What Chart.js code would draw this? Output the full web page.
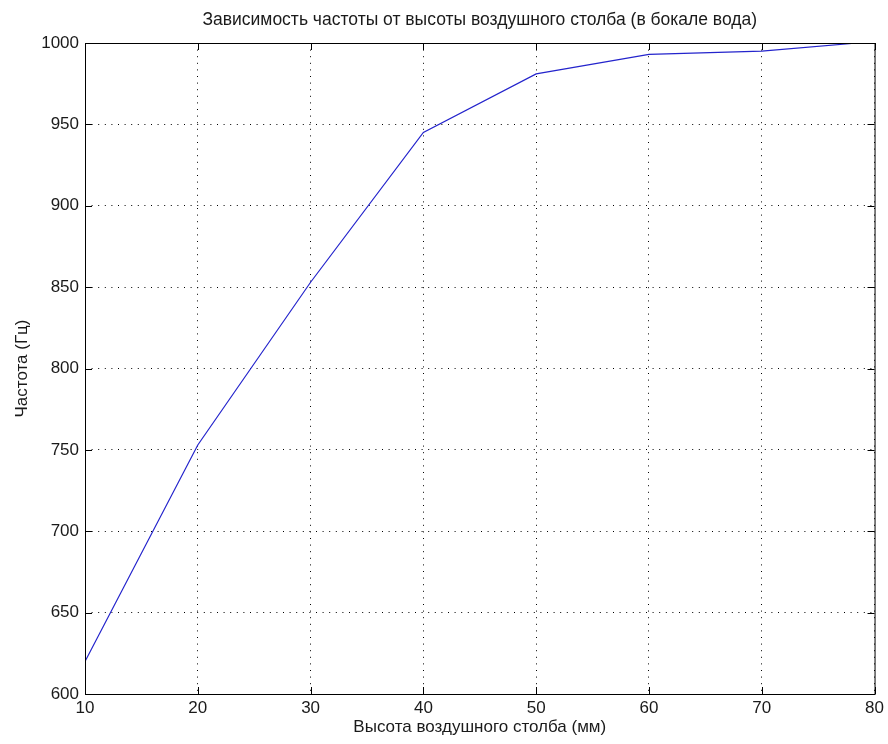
<!DOCTYPE html>
<html>
<head>
<meta charset="utf-8">
<script src="https://cdn.jsdelivr.net/npm/chart.js@4"></script>
<style>
  html, body { margin: 0; padding: 0; background: #fff; }
  #wrap { width: 888px; height: 744px; }
</style>
</head>
<body>
<div id="wrap"><canvas id="freq" width="888" height="744"></canvas></div>
<script>
// высота воздушного столба (мм) и частота (Гц)
const heights = [10, 20, 30, 40, 50, 60, 70, 78.5];
const freqs = [620, 753, 853, 945, 981, 993, 995, 1000];
const xTicks = [10, 20, 30, 40, 50, 60, 70, 80];
const yTicks = [600, 650, 700, 750, 800, 850, 900, 950, 1000];
const chartTitle = 'Зависимость частоты от высоты воздушного столба (в бокале вода)';

const font = "'Liberation Sans', Arial, sans-serif";
const textColor = '#1a1a1a';

// matlab-style box with ticks pointing inwards on all four sides,
// title centred over the axes rather than the whole canvas
const boxPlugin = {
  id: 'box',
  afterDraw(chart) {
    const {ctx, chartArea: a, scales} = chart;
    ctx.save();
    ctx.strokeStyle = '#000';
    ctx.lineWidth = 1;
    ctx.setLineDash([]);
    ctx.strokeRect(a.left + 0.5, a.top + 0.5, a.right - a.left, a.bottom - a.top);
    const len = 7;
    ctx.beginPath();
    xTicks.forEach(v => {
      const px = Math.round(scales.x.getPixelForValue(v)) + 0.5;
      ctx.moveTo(px, a.bottom); ctx.lineTo(px, a.bottom - len);
      ctx.moveTo(px, a.top); ctx.lineTo(px, a.top + len);
    });
    yTicks.forEach(v => {
      const py = Math.round(scales.y.getPixelForValue(v)) + 0.5;
      ctx.moveTo(a.left, py); ctx.lineTo(a.left + len, py);
      ctx.moveTo(a.right, py); ctx.lineTo(a.right - len, py);
    });
    ctx.stroke();

    ctx.fillStyle = textColor;
    ctx.font = '17.5px ' + font;
    ctx.textAlign = 'center';
    ctx.textBaseline = 'middle';
    ctx.fillText(chartTitle, (a.left + a.right) / 2, 20);
    ctx.restore();
  }
};

new Chart(document.getElementById('freq'), {
  type: 'scatter',
  data: {
    datasets: [{
      data: heights.map((h, i) => ({x: h, y: freqs[i]})),
      showLine: true,
      borderColor: '#2424cc',
      borderWidth: 1.2,
      pointRadius: 0,
      tension: 0
    }]
  },
  options: {
    responsive: false,
    animation: false,
    layout: { padding: { left: 0, right: 12, top: 43, bottom: 0 } },
    plugins: {
      legend: { display: false },
      tooltip: { enabled: false },
      title: { display: false }
    },
    scales: {
      x: {
        type: 'linear',
        min: 10, max: 80,
        afterBuildTicks(scale) { scale.ticks = xTicks.map(v => ({value: v})); },
        afterFit(scale) { scale.height = 50; },
        grid: { color: '#000', lineWidth: 1, drawTicks: false },
        border: { display: false, dash: [1, 5.6] },
        ticks: { color: textColor, padding: 4, font: { family: font, size: 17 },
                 callback: v => String(v) },
        title: {
          display: true,
          text: 'Высота воздушного столба (мм)',
          color: textColor,
          font: { family: font, size: 17 },
          padding: { top: 0, bottom: 6 }
        }
      },
      y: {
        min: 600, max: 1000,
        afterBuildTicks(scale) { scale.ticks = yTicks.map(v => ({value: v})); },
        afterFit(scale) { scale.width = 85; },
        grid: { color: '#000', lineWidth: 1, drawTicks: false },
        border: { display: false, dash: [1, 5.6] },
        ticks: { color: textColor, padding: 6, font: { family: font, size: 17 },
                 callback: v => String(v) },
        title: {
          display: true,
          text: 'Частота (Гц)',
          color: textColor,
          font: { family: font, size: 17 },
          padding: { top: 12, bottom: 0 }
        }
      }
    }
  },
  plugins: [boxPlugin]
});
</script>
</body>
</html>
